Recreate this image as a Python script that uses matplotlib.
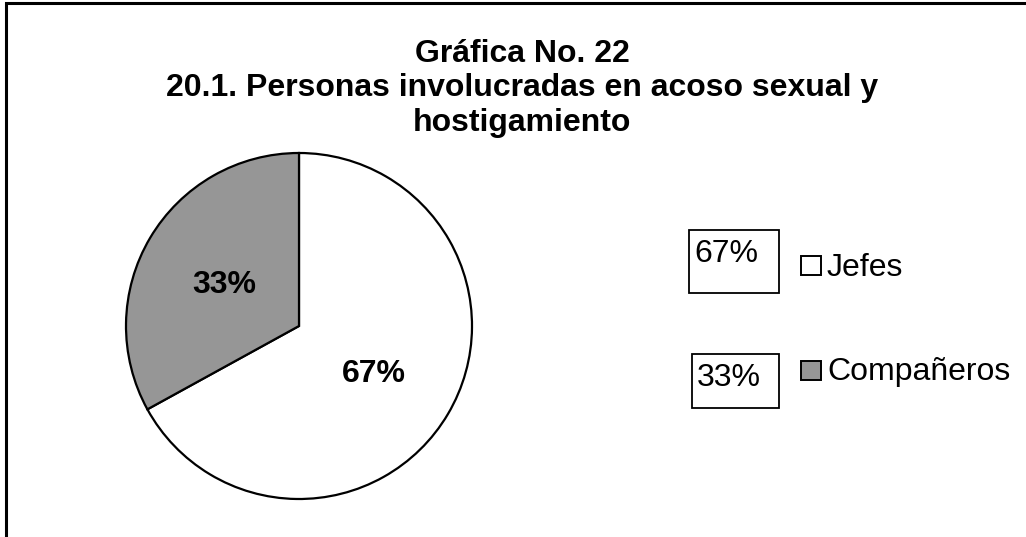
import numpy as np
import matplotlib
matplotlib.use('Agg')
import matplotlib.pyplot as plt
from matplotlib.patches import Rectangle

plt.rcParams['font.family'] = ['Liberation Sans', 'DejaVu Sans']

categorias = ['Jefes', 'Compañeros']
valores = [67, 33]
colores = ['#FFFFFF', '#969696']
etiquetas = ['67%', '33%']
titulo = 'Gráfica No. 22\n20.1. Personas involucradas en acoso sexual y\nhostigamiento'

W, H = 1026, 537
fig = plt.figure(figsize=(W / 100, H / 100), dpi=100)

# marco (cortado a la derecha y abajo)
fig.patches.append(Rectangle((6 / W, -0.1), 1.2, (H - 3) / H + 0.1, transform=fig.transFigure,
                             fill=False, edgecolor='black', linewidth=2.2))

fig.text(522 / W, 1 - 131 / H, titulo, ha='center', va='baseline', fontsize=23,
         fontweight='bold', linespacing=1.2)

# pastel: centro (299, 326), radio 173 px
r = 173
ax = fig.add_axes([(299 - r) / W, (H - 326 - r) / H, 2 * r / W, 2 * r / H])
wedges, _, autotexts = ax.pie(valores, colors=colores, startangle=90, counterclock=False,
                              autopct='%.0f%%', pctdistance=0.5,
                              textprops=dict(fontsize=23, fontweight='bold'),
                              wedgeprops=dict(edgecolor='black', linewidth=1.6))
for t in autotexts:
    t.set_va('center_baseline')
ax.set_xlim(-1, 1)
ax.set_ylim(-1, 1)
ax.set_aspect('auto')

# leyenda con cuadros de porcentaje
cajas = [(689, 230, 90, 63), (692, 354, 87, 54)]
base_caja = [262, 386]
base_cat = [276, 380]
cuadros_y = [256, 361]
for (x0, y0, bw, bh), lab, bc, bt, qy, col, cat in zip(cajas, etiquetas, base_caja, base_cat,
                                                       cuadros_y, colores, categorias):
    fig.patches.append(Rectangle((x0 / W, 1 - (y0 + bh) / H), bw / W, bh / H,
                                 transform=fig.transFigure, fill=False,
                                 edgecolor='black', linewidth=1.3))
    fig.text((x0 + 5) / W, 1 - bc / H, lab, ha='left', va='baseline', fontsize=23)
    fig.patches.append(Rectangle((801 / W, 1 - (qy + 19) / H), 20 / W, 19 / H,
                                 transform=fig.transFigure, facecolor=col,
                                 edgecolor='black', linewidth=1.4))
    fig.text(827 / W, 1 - bt / H, cat, ha='left', va='baseline', fontsize=23)

fig.savefig('out.png', dpi=100)
